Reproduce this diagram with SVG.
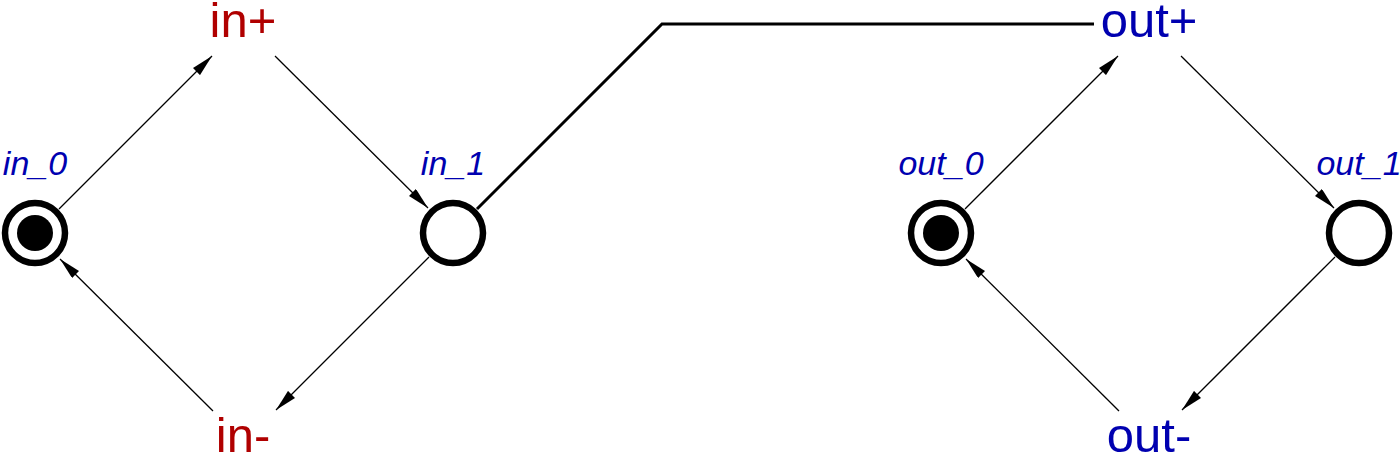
<svg xmlns="http://www.w3.org/2000/svg" width="1400" height="456" viewBox="0 0 1400 456">
<style>
.place{fill:#fff;stroke:#000;stroke-width:6.5}
.tok{fill:#000}
.tr{font-family:"Liberation Sans",Arial,sans-serif;font-size:49px;text-anchor:middle}
.red{fill:#b00000}
.blue{fill:#0000b0}
.pl{font-family:"Liberation Sans",Arial,sans-serif;font-size:34px;font-style:italic;text-anchor:middle;fill:#0000b0}
.arc{stroke:#000;stroke-width:1.3;fill:none;marker-end:url(#ah)}
.rd{stroke:#000;stroke-width:3;fill:none}
</style>
<defs>
<marker id="ah" viewBox="0 0 22 10" refX="22" refY="5" markerWidth="22" markerHeight="10" markerUnits="userSpaceOnUse" orient="auto">
<path d="M0,0 L22,5 L0,10 Z" fill="#000"/>
</marker>
</defs>
<g id="connectors">
<line class="arc" x1="59" y1="209" x2="212" y2="56"/>
<line class="arc" x1="275" y1="56" x2="428" y2="208"/>
<line class="arc" x1="429" y1="257" x2="276" y2="410"/>
<line class="arc" x1="213" y1="411" x2="60" y2="259"/>
<line class="arc" x1="965" y1="209" x2="1118" y2="56"/>
<line class="arc" x1="1181" y1="56" x2="1334" y2="208"/>
<line class="arc" x1="1335" y1="257" x2="1182" y2="410"/>
<line class="arc" x1="1119" y1="411" x2="966" y2="259"/>
<polyline class="rd" points="477,209 662,24 1094,24"/>
</g>
<g id="in_0">
<circle class="place" cx="35" cy="233" r="30"/>
<circle class="tok" cx="35" cy="233" r="18"/>
<text class="pl" x="35" y="175">in_0</text>
</g>
<g id="in_1">
<circle class="place" cx="453" cy="233" r="30"/>
<text class="pl" x="453" y="175">in_1</text>
</g>
<g id="out_0">
<circle class="place" cx="941" cy="233" r="30"/>
<circle class="tok" cx="941" cy="233" r="18"/>
<text class="pl" x="941" y="175">out_0</text>
</g>
<g id="out_1">
<circle class="place" cx="1359" cy="233" r="30"/>
<text class="pl" x="1359" y="175">out_1</text>
</g>
<g id="in_plus"><text class="tr red" x="243" y="37">in+</text></g>
<g id="in_minus"><text class="tr red" x="243" y="452">in-</text></g>
<g id="out_plus"><text class="tr blue" x="1149" y="37">out+</text></g>
<g id="out_minus"><text class="tr blue" x="1149" y="452">out-</text></g>
</svg>
